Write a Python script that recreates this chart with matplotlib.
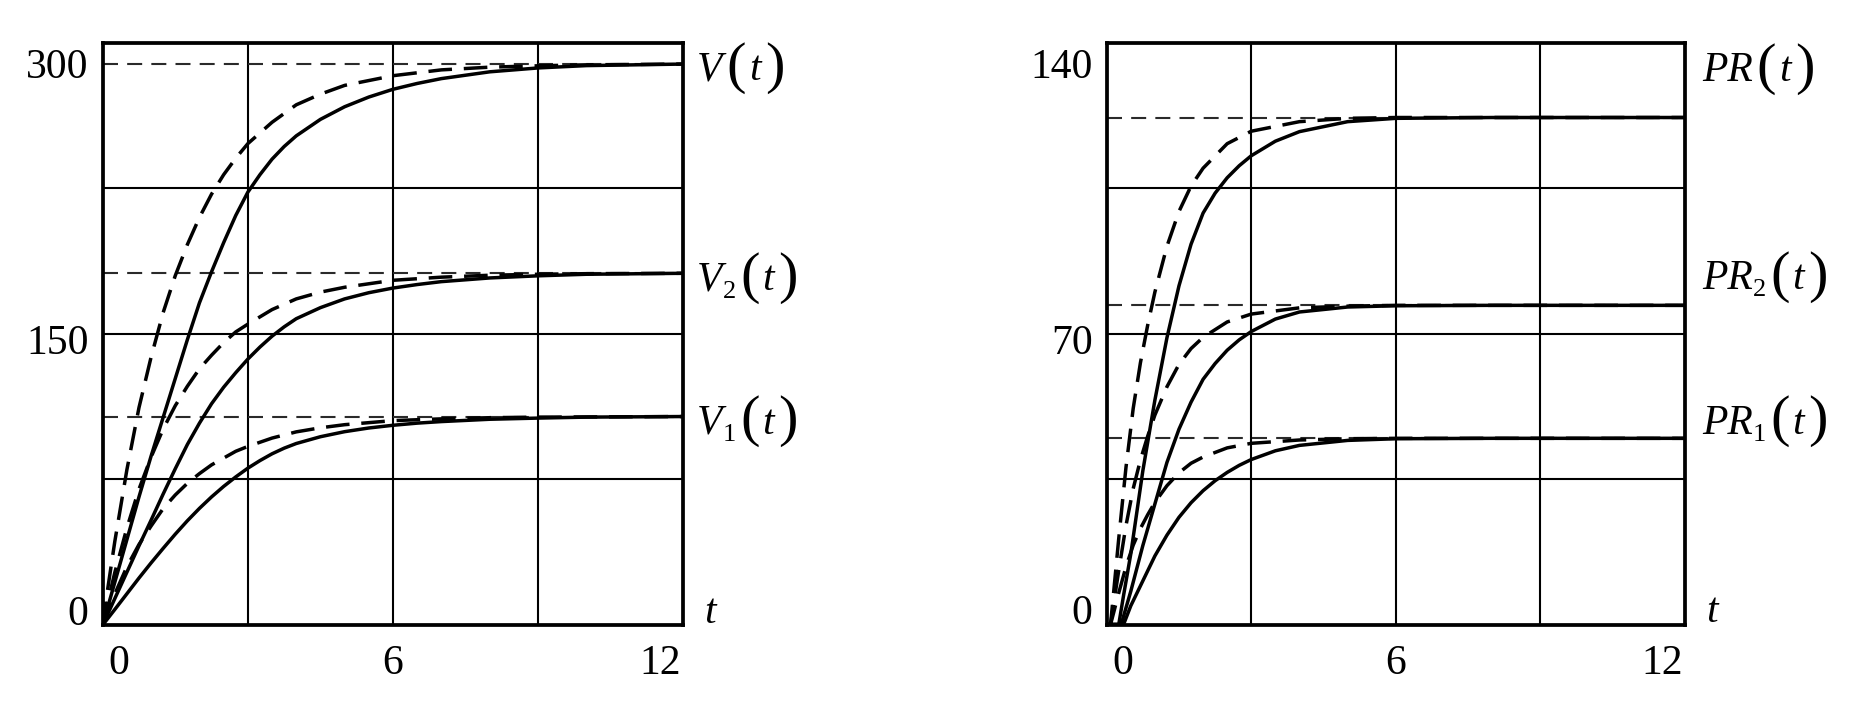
import matplotlib
matplotlib.use("Agg")
import matplotlib.pyplot as plt

# ---------------- data ----------------
# Left panel: V(t), V2(t), V1(t)
t_dash_L = [0, 0.1, 0.25, 0.5, 0.75, 1.0, 1.25, 1.5, 1.75, 2.0, 2.25, 2.5, 2.75, 3.0,
            3.5, 4.0, 4.5, 5.0, 6.0, 7.0, 8.0, 9.0, 10.0, 12.0]
V_dash = [0, 18, 43, 80, 112, 138, 161, 180, 196, 210, 222, 232, 240.5, 248,
          259, 268, 273.5, 278, 283, 286, 287.4, 288.1, 288.6, 289]
V2_dash = [0, 11.4, 27, 50, 70, 86.5, 101, 113, 123, 132, 139, 145.5, 151, 155,
           162.5, 168, 171.5, 174, 177.6, 179.2, 180.2, 180.7, 181, 181.2]
V1_dash = [0, 6.8, 16, 30, 41.5, 51, 60, 67, 73, 78, 82.5, 86, 89.5, 92,
           96.3, 99.5, 101.6, 103.2, 105.3, 106.2, 106.8, 107.1, 107.2, 107.4]

t_solid_L = [0, 0.25, 0.5, 0.75, 1.0, 1.25, 1.5, 1.75, 2.0, 2.25, 2.5, 2.75, 3.0,
             3.25, 3.5, 3.75, 4.0, 4.5, 5.0, 5.5, 6.0, 6.5, 7.0, 8.0, 9.0, 10.0, 12.0]
V_solid = [0, 22, 44, 66, 87, 107, 127, 147, 166, 182, 197, 211, 223,
           232, 240, 246.5, 252, 260.5, 267, 272, 276, 279, 281.5, 285, 287, 288.2, 289]
V2_solid = [0, 13.6, 27.2, 40.8, 54, 67.5, 80.5, 93, 104, 114, 122.5, 130, 137,
            143.2, 148.8, 153.6, 157.8, 163.5, 168, 171.2, 173.6, 175.4, 176.9, 178.8, 179.9, 180.7, 181.2]
V1_solid = [0, 8, 16.1, 24.2, 32, 39.5, 46.8, 53.7, 60.1, 66, 71.4, 76.3, 80.8,
            84.7, 88.2, 91.1, 93.5, 97, 99.6, 101.5, 102.9, 104, 104.8, 106, 106.6, 107.1, 107.4]
V_levels = [289, 181.2, 107.4]

# Right panel: PR(t), PR2(t), PR1(t)
t_dash_R = [0, 0.08, 0.15, 0.25, 0.4, 0.55, 0.7, 0.85, 1.0, 1.25, 1.5, 1.75, 2.0,
            2.5, 3.0, 4.0, 5.0, 6.0, 12.0]
PR_dash = [0, 0, 8.5, 20.7, 37.8, 52, 63, 72, 80, 91, 99.4, 105.5, 109.8,
           115.7, 118.7, 121, 121.8, 122, 122]
PR2_dash = [0, 0, 5.4, 13, 23.8, 32.7, 39.6, 45.3, 50.4, 57.2, 62.6, 66.4, 69.1,
            72.8, 74.7, 76.2, 76.6, 76.8, 76.8]
PR1_dash = [0, 0, 3.1, 7.6, 13.9, 19.1, 23.1, 26.4, 29.4, 33.4, 36.5, 38.8, 40.3,
            42.5, 43.6, 44.4, 44.7, 44.8, 44.8]

t_solid_R = [0, 0.25, 0.3, 0.35, 0.5, 0.75, 1.0, 1.25, 1.5, 1.75, 2.0, 2.25, 2.5,
             2.75, 3.0, 3.5, 4.0, 5.0, 6.0, 8.0, 12.0]
PR_solid = [0, 0, 3.5, 7, 17, 37, 54, 69, 81.5, 91.5, 99, 103.8, 107.5,
            110.4, 112.8, 116.3, 118.6, 121, 121.8, 122, 122]
PR2_solid = [0, 0, 0, 2, 8, 19, 29, 39, 47, 53.5, 59, 62.8, 66,
             68.5, 70.5, 73.5, 75.2, 76.4, 76.7, 76.8, 76.8]
PR1_solid = [0, 0, 0, 0, 4.5, 10.5, 16.5, 21.5, 25.8, 29.3, 32.2, 34.6, 36.6,
             38.3, 39.7, 41.8, 43.1, 44.3, 44.7, 44.8, 44.8]
PR_levels = [122, 76.8, 44.8]

x_ticks = [0, 6, 12]
x_grid = [3, 6, 9]
yL_ticks = [0, 150, 300]
yL_grid = [75, 150, 225]
yR_ticks = [0, 70, 140]
yR_grid = [35, 70, 105]

L_names = ["V", "V", "V"]
L_subs = ["", "2", "1"]
L_label_y = [287.5, 179.5, 105.5]
R_names = ["PR", "PR", "PR"]
R_subs = ["", "2", "1"]
R_label_y = [134, 84, 49.2]

# ---------------- figure ----------------
W, H, DPI = 1866, 714, 100
PX = 72.0 / DPI  # points per pixel
FONT = ["Liberation Serif", "DejaVu Serif"]

fig = plt.figure(figsize=(W / DPI, H / DPI), dpi=DPI)
fig.patch.set_facecolor("white")


def rect(x0, x1, ytop, ybot):
    return [x0 / W, 1 - ybot / H, (x1 - x0) / W, (ybot - ytop) / H]


axL = fig.add_axes(rect(102.7, 683.3, 42.7, 625))
axR = fig.add_axes(rect(1106.7, 1685, 42.7, 624.5))

renderer = fig.canvas.get_renderer()

CURVE_LW = 2.5
DASH = (0, (6.8, 3.4))
ASYM_LW = 1.5
ASYM_DASH = (0, (7.2, 4.4))


def setup(ax, ymax, ygrid, yticks):
    ax.set_xlim(0, 12)
    ax.set_ylim(0, ymax)
    ax.set_xticks([])
    ax.set_yticks([])
    for s in ax.spines.values():
        s.set_linewidth(2.7)
        s.set_color("black")
        s.set_zorder(6)
    for g in x_grid:
        ax.axvline(g, color="black", lw=1.5, zorder=1)
    for g in ygrid:
        ax.axhline(g, color="black", lw=1.5, zorder=1)
    # x tick labels
    for v in x_ticks:
        if v == x_ticks[0]:
            ha, dx = "left", 6
        elif v == x_ticks[-1]:
            ha, dx = "right", -2
        else:
            ha, dx = "center", 0
        ax.annotate(str(v), xy=(v, 0), xycoords=("data", "axes fraction"),
                    xytext=(dx * PX, -49 * PX), textcoords="offset points",
                    ha=ha, va="baseline", fontsize=30, family=FONT,
                    annotation_clip=False)
    # y tick labels
    for v in yticks:
        if v == yticks[0]:
            dy = 0
            xy = (0, 0)
            coords = ("axes fraction", "axes fraction")
        elif v == yticks[-1]:
            dy = -35
            xy = (0, 1)
            coords = ("axes fraction", "axes fraction")
        else:
            dy = -20
            xy = (0, v)
            coords = ("axes fraction", "data")
        ax.annotate(str(v), xy=xy, xycoords=coords,
                    xytext=(-14 * PX, dy * PX), textcoords="offset points",
                    ha="right", va="baseline", fontsize=30, family=FONT,
                    annotation_clip=False)
    # axis letter t
    ax.annotate("t", xy=(1, 0), xycoords="axes fraction",
                xytext=(21 * PX, 2 * PX), textcoords="offset points",
                ha="left", va="baseline", fontsize=30, family=FONT,
                fontstyle="italic", annotation_clip=False)


def fancy_label(ax, yval, main, sub, x0px):
    x = x0px
    pieces = []
    if sub:
        pieces.append((main, 30, "italic", -13.5, 0))
        pieces.append((sub, 19, "normal", -21, 4))
    else:
        pieces.append((main, 30, "italic", -13.5, 4))
    pieces.append(("(", 42, "normal", -15, 3))
    pieces.append(("t", 30, "italic", -13.5, 4))
    pieces.append((")", 42, "normal", -15, 0))
    for txt, fs, style, dy, gap in pieces:
        a = ax.annotate(txt, xy=(1, yval), xycoords=("axes fraction", "data"),
                        xytext=(x * PX, dy * PX), textcoords="offset points",
                        ha="left", va="baseline", fontsize=fs, family=FONT,
                        fontstyle=style, fontweight="light",
                        annotation_clip=False)
        bb = a.get_window_extent(renderer)
        x += bb.width + gap


def draw_panel(ax, t_d, dashes, t_s, solids, levels):
    for lv in levels:
        ax.plot([0, 12], [lv, lv], color="#2a2a2a", lw=ASYM_LW,
                linestyle=ASYM_DASH, zorder=2)
    for d in dashes:
        ax.plot(t_d, d, color="black", lw=CURVE_LW, linestyle=DASH, zorder=3,
                dash_joinstyle="round", dash_capstyle="butt")
    for s in solids:
        ax.plot(t_s, s, color="black", lw=CURVE_LW, zorder=4,
                solid_joinstyle="round")


setup(axL, 300, yL_grid, yL_ticks)
setup(axR, 140, yR_grid, yR_ticks)

draw_panel(axL, t_dash_L, [V_dash, V2_dash, V1_dash],
           t_solid_L, [V_solid, V2_solid, V1_solid], V_levels)
draw_panel(axR, t_dash_R, [PR_dash, PR2_dash, PR1_dash],
           t_solid_R, [PR_solid, PR2_solid, PR1_solid], PR_levels)

for y, n, s in zip(L_label_y, L_names, L_subs):
    fancy_label(axL, y, n, s, 14)
for y, n, s in zip(R_label_y, R_names, R_subs):
    fancy_label(axR, y, n, s, 17)

fig.savefig("out.png", dpi=DPI, facecolor="white")
